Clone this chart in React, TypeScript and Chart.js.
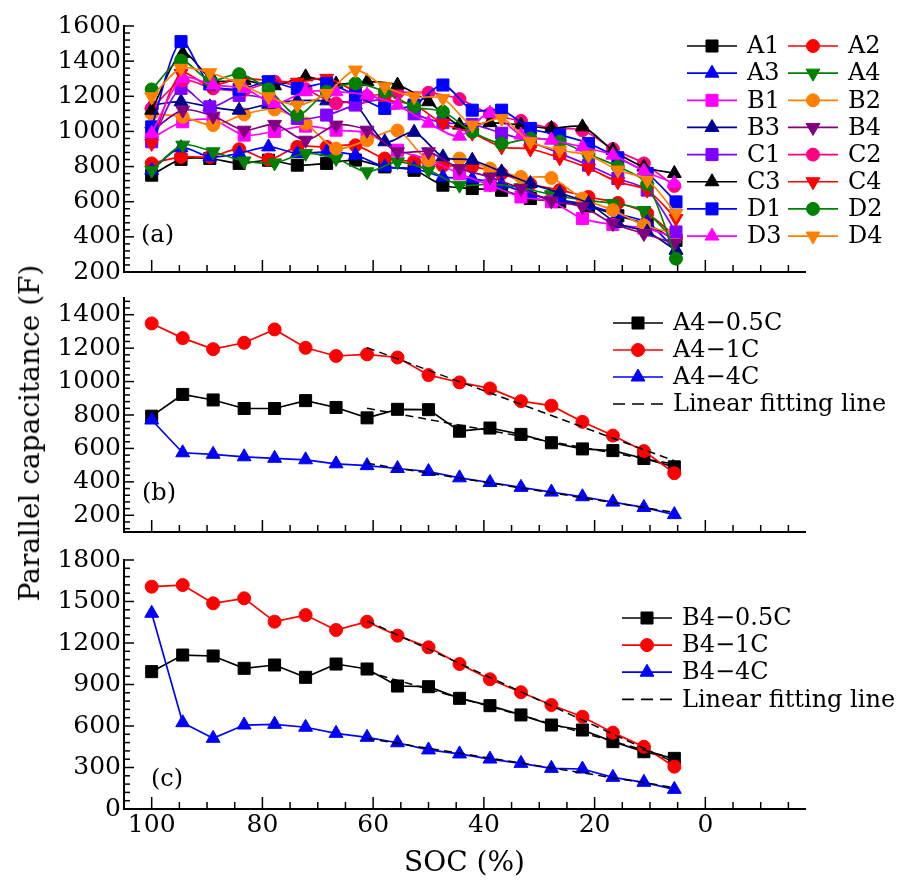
import React, { useEffect, useRef } from 'react';
import { Chart, registerables } from 'chart.js';

Chart.register(...registerables);

const FAMILY = '"DejaVu Serif", "Liberation Serif", serif';

// ---------- x positions (SOC, %) ----------
const SOC18 = [100, 94.4, 88.9, 83.3, 77.8, 72.2, 66.7, 61.1, 55.6, 50, 44.4, 38.9, 33.3, 27.8, 22.2, 16.7, 11.1, 5.6];
const SOC19 = [100, 94.7, 89.5, 84.2, 78.9, 73.7, 68.4, 63.2, 57.9, 52.6, 47.4, 42.1, 36.8, 31.6, 26.3, 21.1, 15.8, 10.5, 5.3];
const X_LABEL_TICKS = [100, 80, 60, 40, 20, 0];

// ---------- panel (a) ----------
const A1 = [751, 841, 846, 818, 836, 808, 818, 837, 798, 779, 694, 675, 665, 618, 600, 575, 520, 470, 380];
const A2 = [818, 855, 855, 899, 840, 912, 912, 921, 846, 830, 805, 800, 760, 700, 666, 627, 593, 533, 400];
const A3 = [779, 907, 855, 875, 912, 875, 884, 865, 798, 789, 741, 730, 700, 640, 610, 580, 530, 480, 324];
const A4 = [779, 922, 884, 832, 821, 875, 846, 770, 827, 780, 694, 700, 680, 640, 610, 590, 550, 380];
const B1 = [960, 1055, 1064, 979, 1000, 1030, 1007, 990, 893, 840, 760, 694, 627, 600, 504, 470, 450, 400];
const B2 = [1100, 1083, 1036, 1097, 1125, 1045, 903, 950, 1005, 836, 846, 789, 741, 735, 618, 552, 466, 420];
const B3 = [1150, 1169, 1140, 1121, 1155, 1175, 1174, 1150, 941, 995, 855, 836, 770, 704, 650, 590, 476, 428, 324];
const B4 = [1000, 1121, 1087, 1007, 1040, 950, 1036, 1007, 884, 884, 789, 741, 675, 605, 571, 476, 419, 362];
const C1 = [941, 1245, 1140, 1205, 1180, 1074, 1093, 1150, 1180, 1100, 1050, 1040, 990, 940, 875, 808, 732, 666, 428];
const C2 = [1131, 1290, 1245, 1236, 1283, 1240, 1160, 1200, 1220, 1220, 1184, 1100, 1060, 1018, 1007, 900, 818, 690];
const C3 = [1121, 1444, 1292, 1290, 1260, 1311, 1270, 1283, 1264, 1169, 1036, 1050, 1036, 1017, 1026, 893, 798, 761];
const C4 = [932, 1330, 1260, 1300, 1290, 1280, 1302, 1230, 1180, 1150, 1045, 990, 912, 900, 850, 791, 713, 666, 504];
const D1 = [1026, 1511, 1270, 1240, 1283, 1245, 1273, 1207, 1131, 1150, 1264, 1121, 1121, 1017, 980, 932, 850, 761, 599];
const D2 = [1239, 1403, 1290, 1326, 1240, 1093, 1226, 1273, 1226, 1140, 1112, 998, 932, 960, 941, 870, 800, 700, 276];
const D3 = [989, 1302, 1264, 1245, 1159, 1226, 1226, 1207, 1150, 1047, 973, 1104, 979, 950, 912, 865, 775, 705];
const D4 = [1197, 1359, 1334, 1273, 1197, 1150, 1216, 1349, 1254, 1197, 1188, 1036, 1074, 941, 893, 865, 780, 723, 533];

// ---------- panel (b) ----------
const A4_05C = [793, 923, 890, 839, 839, 886, 845, 783, 834, 832, 703, 722, 684, 634, 597, 587, 540, 490];
const A4_1C = [1348, 1260, 1194, 1232, 1312, 1202, 1153, 1163, 1144, 1039, 995, 959, 883, 856, 759, 677, 584, 452];
const A4_4C = [770, 574, 565, 550, 541, 532, 508, 497, 480, 462, 424, 396, 367, 339, 311, 279, 247, 204];
const FIT_SOC = [61.1, 5.6];
const FIT_A4_05C = [840, 506];
const FIT_A4_1C = [1203, 526];
const FIT_A4_4C = [511, 217];

// ---------- panel (c) ----------
const B4_05C = [993, 1113, 1106, 1017, 1041, 952, 1048, 1012, 889, 884, 800, 747, 680, 607, 571, 487, 414, 366];
const B4_1C = [1607, 1619, 1487, 1523, 1354, 1402, 1294, 1354, 1253, 1169, 1048, 938, 844, 752, 667, 552, 450, 306];
const B4_4C = [1415, 624, 511, 607, 612, 591, 547, 518, 479, 427, 398, 361, 330, 294, 289, 229, 193, 142];
const FIT_B4_05C = [992, 364];
const FIT_B4_1C = [1360, 337];
const FIT_B4_4C = [510, 155];

type Marker = 'rect' | 'circle' | 'triangle' | 'down';

const MARKER_R: Record<Marker, number> = { rect: 8.5, circle: 6.5, triangle: 8, down: 8 };

function series(label: string, soc: number[], values: number[], color: string, marker: Marker, smooth: number) {
  return {
    label,
    data: values.map((v, i) => ({ x: soc[i], y: v })),
    borderColor: color,
    backgroundColor: color,
    pointBackgroundColor: color,
    pointBorderColor: color,
    borderWidth: 1.7,
    pointBorderWidth: 1,
    pointStyle: marker === 'down' ? 'triangle' : marker,
    pointRotation: marker === 'down' ? 180 : 0,
    pointRadius: MARKER_R[marker],
    tension: smooth,
    fill: false,
  };
}

function fitLine(soc: number[], values: number[], inLegend: boolean) {
  return {
    label: 'Linear fitting line',
    data: values.map((v, i) => ({ x: soc[i], y: v })),
    borderColor: '#000',
    backgroundColor: '#000',
    borderWidth: 1.5,
    borderDash: [8, 5],
    legendDash: [12, 7],
    pointRadius: 0,
    tension: 0,
    fill: false,
    noLegend: !inLegend,
    order: -100,
  };
}

function drawMarker(ctx: CanvasRenderingContext2D, style: string, rot: number, x: number, y: number, r: number, color: string) {
  ctx.save();
  ctx.setLineDash([]);
  ctx.fillStyle = color;
  ctx.strokeStyle = color;
  ctx.lineWidth = 1;
  ctx.beginPath();
  if (style === 'circle') {
    ctx.arc(x, y, r, 0, Math.PI * 2);
  } else if (style === 'rect') {
    const s = Math.SQRT1_2 * r;
    ctx.rect(x - s, y - s, 2 * s, 2 * s);
  } else {
    let a = (rot * Math.PI) / 180;
    for (let i = 0; i < 3; i++) {
      const px = x + Math.sin(a) * r;
      const py = y - Math.cos(a) * r;
      if (i === 0) ctx.moveTo(px, py);
      else ctx.lineTo(px, py);
      a += (2 * Math.PI) / 3;
    }
    ctx.closePath();
  }
  ctx.fill();
  ctx.stroke();
  ctx.restore();
}

const decoPlugin = {
  id: 'deco',
  afterDraw(chart: any, _args: any, opts: any) {
    const ctx: CanvasRenderingContext2D = chart.ctx;
    const xs = chart.scales.x;
    const ys = chart.scales.y;
    const ca = chart.chartArea;
    ctx.save();
    ctx.strokeStyle = '#000';
    ctx.lineWidth = 1.5;
    ctx.setLineDash([]);
    // x ticks (inward)
    for (let k = -3; k <= 20; k++) {
      const v = 5 * k;
      const px = xs.getPixelForValue(v);
      const len = v % 20 === 0 ? 12 : 7;
      ctx.beginPath();
      ctx.moveTo(px, ca.bottom);
      ctx.lineTo(px, ca.bottom - len);
      ctx.stroke();
    }
    // y ticks (inward)
    const step = opts.yMinor;
    const start = Math.ceil(ys.min / step);
    const end = Math.floor(ys.max / step);
    for (let k = start; k <= end; k++) {
      const v = k * step;
      const py = ys.getPixelForValue(v);
      const len = v % opts.yMajor === 0 ? 10 : 6;
      ctx.beginPath();
      ctx.moveTo(ca.left, py);
      ctx.lineTo(ca.left + len, py);
      ctx.stroke();
    }
    // panel tag
    ctx.fillStyle = '#000';
    ctx.font = `24px ${FAMILY}`;
    ctx.textBaseline = 'middle';
    ctx.textAlign = 'left';
    ctx.fillText(opts.tag, opts.tagX, ca.bottom + opts.tagDy);

    // legend
    const L = opts.legend;
    const items = chart.data.datasets.filter((d: any) => !d.noLegend);
    items.forEach((d: any, k: number) => {
      const col = k % L.cols;
      const row = Math.floor(k / L.cols);
      const x0 = L.x + col * L.colW;
      const y = L.y + row * L.rowH;
      ctx.save();
      ctx.strokeStyle = d.borderColor;
      ctx.lineWidth = 1.7;
      ctx.setLineDash(d.legendDash || []);
      ctx.beginPath();
      ctx.moveTo(x0, y);
      ctx.lineTo(x0 + L.lineLen, y);
      ctx.stroke();
      ctx.restore();
      if (d.pointRadius > 0) {
        drawMarker(ctx, d.pointStyle, d.pointRotation || 0, x0 + L.lineLen / 2, y, d.pointRadius, d.borderColor);
      }
      ctx.fillStyle = '#000';
      ctx.font = `24px ${FAMILY}`;
      ctx.textBaseline = 'middle';
      ctx.fillText(d.label, x0 + L.lineLen + 10, y + 1);
    });
    ctx.restore();
  },
};

function buildConfig(p: any) {
  const datasets = p.datasets.map((d: any, i: number) => (d.order === undefined ? { ...d, order: -i } : d));
  return {
    type: 'line',
    data: { datasets },
    options: {
      responsive: false,
      maintainAspectRatio: false,
      animation: false,
      events: [],
      layout: { padding: p.padding },
      plugins: {
        legend: { display: false },
        tooltip: { enabled: false },
        deco: p.deco,
      },
      scales: {
        x: {
          type: 'linear',
          min: -18,
          max: 105,
          reverse: true,
          grid: { display: false, drawTicks: false },
          border: { display: true, color: '#000', width: 2 },
          ticks: {
            display: p.showX,
            font: { family: FAMILY, size: 25 },
            color: '#000',
            padding: 1,
            maxRotation: 0,
            autoSkip: false,
            callback: (v: any) => String(v),
          },
          afterBuildTicks: (s: any) => {
            s.ticks = X_LABEL_TICKS.map((v) => ({ value: v }));
          },
          afterFit: (s: any) => {
            s.height = p.showX ? 80 : 0;
          },
          title: {
            display: p.showX,
            text: 'SOC (%)',
            font: { family: FAMILY, size: 28 },
            color: '#000',
            padding: { top: 2, bottom: 8 },
          },
        },
        y: {
          type: 'linear',
          min: p.yMin,
          max: p.yMax,
          grid: { display: false, drawTicks: false },
          border: { display: true, color: '#000', width: 2 },
          ticks: {
            font: { family: FAMILY, size: 25 },
            color: '#000',
            padding: 3,
            autoSkip: false,
            callback: (v: any) => String(v),
          },
          afterBuildTicks: (s: any) => {
            s.ticks = p.yLabels.map((v: number) => ({ value: v }));
          },
          afterFit: (s: any) => {
            s.width = 100;
          },
        },
      },
    },
    plugins: [decoPlugin],
  };
}

// ---------- layout ----------
const W = 913;
const PANELS = [
  { top: 0, height: 290 },
  { top: 280, height: 270 },
  { top: 540, height: 356 },
];

export default function App() {
  const refA = useRef<HTMLCanvasElement>(null);
  const refB = useRef<HTMLCanvasElement>(null);
  const refC = useRef<HTMLCanvasElement>(null);

  useEffect(() => {
    const sm = 0.3;
    const cfgA = buildConfig({
      datasets: [
        series('A1', SOC19, A1, '#000000', 'rect', sm),
        series('A2', SOC19, A2, '#ff0000', 'circle', sm),
        series('A3', SOC19, A3, '#0000ff', 'triangle', sm),
        series('A4', SOC18, A4, '#008000', 'down', sm),
        series('B1', SOC18, B1, '#ff00ff', 'rect', sm),
        series('B2', SOC18, B2, '#ff8000', 'circle', sm),
        series('B3', SOC19, B3, '#000090', 'triangle', sm),
        series('B4', SOC18, B4, '#800080', 'down', sm),
        series('C1', SOC19, C1, '#8000ff', 'rect', sm),
        series('C2', SOC18, C2, '#ff0080', 'circle', sm),
        series('C3', SOC18, C3, '#000000', 'triangle', sm),
        series('C4', SOC19, C4, '#ff0000', 'down', sm),
        series('D1', SOC19, D1, '#0000ff', 'rect', sm),
        series('D2', SOC19, D2, '#008000', 'circle', sm),
        series('D3', SOC18, D3, '#ff00ff', 'triangle', sm),
        series('D4', SOC19, D4, '#ff8000', 'down', sm),
      ],
      padding: { left: 24, right: 108, top: 26, bottom: 18 },
      showX: false,
      yMin: 200,
      yMax: 1600,
      yLabels: [200, 400, 600, 800, 1000, 1200, 1400, 1600],
      deco: {
        yMinor: 40,
        yMajor: 200,
        tag: '(a)',
        tagX: 141,
        tagDy: -36,
        legend: { x: 687, y: 46, rowH: 27.15, colW: 101, cols: 2, lineLen: 50 },
      },
    });
    const cfgB = buildConfig({
      datasets: [
        series('A4\u22120.5C', SOC18, A4_05C, '#000000', 'rect', 0),
        series('A4\u22121C', SOC18, A4_1C, '#ff0000', 'circle', 0),
        series('A4\u22124C', SOC18, A4_4C, '#0000ff', 'triangle', 0),
        fitLine(FIT_SOC, FIT_A4_05C, true),
        fitLine(FIT_SOC, FIT_A4_1C, false),
        fitLine(FIT_SOC, FIT_A4_4C, false),
      ],
      padding: { left: 24, right: 108, top: 8, bottom: 13 },
      showX: false,
      yMin: 100,
      yMax: 1500,
      yLabels: [200, 400, 600, 800, 1000, 1200, 1400],
      deco: {
        yMinor: 40,
        yMajor: 200,
        tag: '(b)',
        tagX: 142,
        tagDy: -38,
        legend: { x: 613, y: 323 - 280, rowH: 27, colW: 0, cols: 1, lineLen: 50 },
      },
    });
    const cfgC = buildConfig({
      datasets: [
        series('B4\u22120.5C', SOC18, B4_05C, '#000000', 'rect', 0),
        series('B4\u22121C', SOC18, B4_1C, '#ff0000', 'circle', 0),
        series('B4\u22124C', SOC18, B4_4C, '#0000ff', 'triangle', 0),
        fitLine(FIT_SOC, FIT_B4_05C, true),
        fitLine(FIT_SOC, FIT_B4_1C, false),
        fitLine(FIT_SOC, FIT_B4_4C, false),
      ],
      padding: { left: 24, right: 108, top: 20, bottom: 7 },
      showX: true,
      yMin: 0,
      yMax: 1800,
      yLabels: [0, 300, 600, 900, 1200, 1500, 1800],
      deco: {
        yMinor: 60,
        yMajor: 300,
        tag: '(c)',
        tagX: 151,
        tagDy: -29,
        legend: { x: 622, y: 618 - 540, rowH: 27.1, colW: 0, cols: 1, lineLen: 50 },
      },
    });

    const charts = [
      new Chart(refA.current as HTMLCanvasElement, cfgA as any),
      new Chart(refB.current as HTMLCanvasElement, cfgB as any),
      new Chart(refC.current as HTMLCanvasElement, cfgC as any),
    ];
    return () => charts.forEach((c) => c.destroy());
  }, []);

  const refs = [refA, refB, refC];
  return (
    <div style={{ position: 'absolute', left: 0, top: 0, width: W, height: 896, background: '#fff', overflow: 'hidden' }}>
      {PANELS.map((p, i) => (
        <canvas
          key={i}
          ref={refs[i]}
          width={W}
          height={p.height}
          style={{ position: 'absolute', left: 0, top: p.top, width: W, height: p.height }}
        />
      ))}
      <div
        style={{
          position: 'absolute',
          left: 30,
          top: 433,
          transform: 'translate(-50%, -50%) rotate(-90deg)',
          whiteSpace: 'nowrap',
          fontFamily: FAMILY,
          fontSize: 28,
          color: '#000',
          lineHeight: 1,
        }}
      >
        Parallel capacitance (F)
      </div>
    </div>
  );
}
